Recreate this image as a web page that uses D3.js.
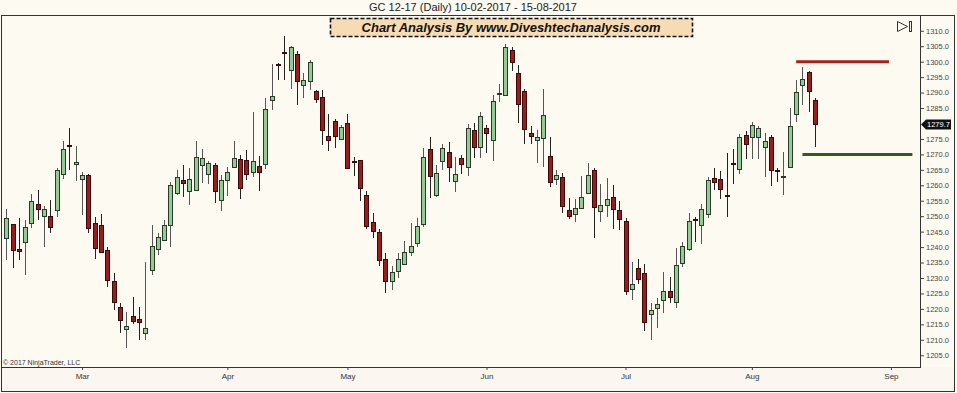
<!DOCTYPE html>
<html>
<head>
<meta charset="utf-8">
<script src="https://cdn.jsdelivr.net/npm/d3@7"></script>
<style>
  body { margin: 0; background: #fdfaf1; }
  svg { display: block; font-family: "Liberation Sans", Arial, sans-serif; }
</style>
</head>
<body>
<svg id="chart" width="957" height="393"></svg>
<script>
// GC 12-17 daily bars, 10-02-2017 .. 15-08-2017 (one entry per trading day)
const opens = [
  1242.8, 1247.4, 1239.3, 1241.7, 1247.7, 1254.1, 1249.8, 1250.0, 1251.8, 1263.5,
  1272.9, 1266.8, 1261.9, 1263.3, 1247.9, 1247.1, 1239.0, 1229.0, 1220.7, 1213.3,
  1217.7, 1216.6, 1212.1, 1232.6, 1239.6, 1242.3, 1247.1, 1257.6, 1261.7, 1258.1,
  1258.4, 1266.5, 1263.8, 1266.5, 1255.2, 1261.9, 1265.8, 1268.4, 1268.2, 1264.4,
  1266.2, 1267.1, 1287.5, 1299.3, 1303.1, 1297.3, 1302.6, 1292.7, 1294.0, 1290.6,
  1288.6, 1275.9, 1280.9, 1275.1, 1280.2, 1267.8, 1268.1, 1257.0, 1248.0, 1245.0,
  1236.0, 1229.0, 1232.0, 1234.7, 1238.5, 1241.2, 1247.6, 1271.9, 1256.8, 1268.1,
  1270.8, 1261.4, 1268.7, 1265.8, 1277.8, 1272.4, 1278.4, 1274.8, 1289.5, 1289.2,
  1303.9, 1296.4, 1290.5, 1276.8, 1274.6, 1275.1, 1269.4, 1261.9, 1262.7, 1252.0,
  1250.7, 1252.8, 1257.6, 1264.9, 1251.8, 1253.9, 1256.3, 1252.0, 1248.5, 1226.6,
  1233.1, 1231.5, 1218.5, 1220.1, 1222.9, 1225.9, 1222.3, 1234.7, 1239.6, 1249.2,
  1247.1, 1250.7, 1262.2, 1261.9, 1256.8, 1267.3, 1265.1, 1276.2, 1275.7, 1275.5,
  1272.5, 1275.5, 1264.9, 1262.6, 1266.0, 1283.3, 1292.4, 1296.7, 1287.6
];
const highs = [
  1252.2, 1247.6, 1249.3, 1248.7, 1257.2, 1258.5, 1253.3, 1255.2, 1265.5, 1274.4,
  1278.4, 1272.7, 1264.4, 1263.8, 1249.8, 1250.6, 1240.1, 1231.5, 1222.0, 1219.1,
  1223.9, 1220.7, 1235.3, 1247.1, 1244.6, 1248.7, 1261.1, 1264.9, 1266.5, 1265.5,
  1274.4, 1271.9, 1267.9, 1267.3, 1263.3, 1266.0, 1274.4, 1269.8, 1271.4, 1283.8,
  1269.4, 1288.1, 1299.4, 1299.6, 1308.3, 1305.0, 1303.5, 1296.2, 1300.7, 1290.8,
  1290.8, 1283.2, 1281.6, 1279.5, 1283.2, 1269.0, 1268.3, 1258.0, 1251.0, 1246.0,
  1238.0, 1234.0, 1238.0, 1242.0, 1247.8, 1249.3, 1272.2, 1275.5, 1266.5, 1273.3,
  1274.1, 1269.2, 1269.7, 1279.8, 1280.2, 1283.8, 1279.5, 1289.2, 1292.9, 1305.7,
  1304.6, 1298.9, 1291.3, 1279.1, 1277.8, 1291.0, 1275.5, 1265.1, 1264.0, 1255.8,
  1255.4, 1263.0, 1267.1, 1265.5, 1260.4, 1262.2, 1260.1, 1255.0, 1249.3, 1235.3,
  1236.3, 1234.5, 1221.8, 1223.4, 1232.0, 1230.4, 1239.6, 1241.7, 1250.9, 1249.8,
  1254.1, 1262.8, 1265.5, 1264.7, 1270.3, 1271.9, 1276.6, 1277.6, 1280.6, 1279.2,
  1276.8, 1276.2, 1265.5, 1270.8, 1284.9, 1294.0, 1298.4, 1297.1, 1288.1
];
const lows = [
  1235.8, 1233.1, 1235.8, 1230.9, 1246.3, 1248.7, 1239.9, 1244.6, 1249.8, 1261.9,
  1264.9, 1261.5, 1250.4, 1244.4, 1236.0, 1238.0, 1227.2, 1219.6, 1212.1, 1207.2,
  1215.1, 1209.9, 1209.9, 1230.9, 1237.4, 1242.1, 1239.9, 1256.8, 1256.1, 1253.6,
  1258.2, 1260.6, 1260.4, 1254.3, 1251.8, 1256.5, 1265.5, 1255.5, 1261.7, 1262.7,
  1258.2, 1265.4, 1284.3, 1294.0, 1294.0, 1291.3, 1285.9, 1288.1, 1290.8, 1286.5,
  1273.0, 1271.1, 1272.2, 1274.6, 1265.4, 1263.0, 1255.0, 1246.0, 1243.0, 1234.0,
  1225.0, 1226.0, 1230.0, 1234.5, 1237.1, 1240.1, 1246.6, 1256.0, 1256.3, 1264.9,
  1261.1, 1257.9, 1263.8, 1262.9, 1268.7, 1268.7, 1270.3, 1267.9, 1287.0, 1288.8,
  1297.0, 1280.2, 1273.5, 1273.5, 1267.3, 1266.0, 1259.5, 1260.0, 1251.1, 1249.0,
  1248.2, 1252.5, 1257.2, 1243.1, 1248.2, 1249.6, 1246.0, 1245.5, 1224.5, 1222.9,
  1228.2, 1212.9, 1209.9, 1213.7, 1218.8, 1222.0, 1220.2, 1233.6, 1238.8, 1241.7,
  1241.0, 1249.3, 1258.4, 1255.4, 1249.8, 1260.4, 1263.6, 1268.4, 1268.4, 1268.4,
  1262.8, 1259.7, 1261.2, 1256.8, 1265.8, 1280.6, 1286.0, 1283.8, 1272.5
];
const closes = [
  1249.3, 1239.0, 1238.8, 1246.6, 1254.9, 1252.5, 1252.2, 1246.4, 1264.9, 1271.6,
  1272.5, 1267.4, 1263.3, 1246.0, 1239.8, 1238.5, 1229.3, 1222.3, 1216.4, 1214.4,
  1216.2, 1215.5, 1213.7, 1240.3, 1243.4, 1247.1, 1260.1, 1262.8, 1260.6, 1261.9,
  1269.0, 1268.7, 1267.3, 1258.1, 1261.7, 1264.4, 1268.7, 1259.0, 1263.6, 1267.9,
  1264.4, 1284.8, 1288.8, 1298.9, 1302.7, 1304.8, 1294.0, 1294.2, 1300.0, 1288.1,
  1277.8, 1274.6, 1276.2, 1278.9, 1265.8, 1267.4, 1259.0, 1247.0, 1245.0, 1236.0,
  1229.0, 1232.0, 1236.0, 1238.5, 1240.3, 1246.8, 1269.2, 1263.3, 1264.0, 1272.2,
  1266.0, 1263.6, 1266.8, 1278.4, 1272.4, 1282.4, 1276.8, 1287.3, 1289.9, 1304.6,
  1300.0, 1286.5, 1278.1, 1275.7, 1275.5, 1282.7, 1261.1, 1263.3, 1253.2, 1250.0,
  1252.5, 1256.3, 1263.3, 1252.8, 1253.6, 1255.7, 1252.5, 1249.0, 1225.9, 1228.2,
  1229.5, 1215.8, 1219.8, 1221.5, 1225.9, 1223.9, 1234.2, 1240.3, 1248.5, 1248.8,
  1252.2, 1261.7, 1260.8, 1258.7, 1256.4, 1266.9, 1275.5, 1273.3, 1279.5, 1278.4,
  1274.4, 1264.7, 1264.5, 1263.0, 1279.2, 1290.3, 1294.3, 1290.6, 1279.7
];

// first bar of each month (bar index), Sep is in the empty future area
const monthLabels = ["Mar", "Apr", "May", "Jun", "Jul", "Aug", "Sep"];
const monthBars = [12, 35, 54, 76, 98, 118, 140];

// drawn levels
const levelPrices = [1300, 1270];
const levelStart = [125, 126];
const levelEnd = [139.7, 143.4];
const levelColors = ["#a8201c", "#3a5a1c"];

const priceTicks = d3.range(1205, 1311, 5).filter(v => v !== 1280);
const lastPrice = closes[closes.length - 1];

const svg = d3.select("#chart"),
  width = +svg.attr("width"),
  height = +svg.attr("height");

const plot = { left: 1, top: 15, right: 920, bottom: 367 };

svg.append("rect").attr("width", width).attr("height", height).attr("fill", "#fdfaf1");
svg.append("rect")
  .attr("x", 1).attr("y", plot.bottom).attr("width", 954).attr("height", 24)
  .attr("fill", "#fcf6f0");

const x = d3.scaleLinear().domain([-0.82, 144.6]).range([plot.left, plot.right]);
const y = d3.scaleLinear().domain([1201.2, 1315.1]).range([plot.bottom, plot.top]);

// title
svg.append("text")
  .attr("x", 473).attr("y", 11)
  .attr("text-anchor", "middle")
  .attr("font-size", 11)
  .attr("fill", "#222")
  .text("GC 12-17 (Daily)  10-02-2017 - 15-08-2017");

// frame
const frame = svg.append("g").attr("stroke", "#333").attr("fill", "none").attr("shape-rendering", "crispEdges");
frame.append("rect").attr("x", 1.5).attr("y", 15.5).attr("width", 953).attr("height", 376);
frame.append("line").attr("x1", 1).attr("x2", plot.right).attr("y1", plot.bottom + 0.5).attr("y2", plot.bottom + 0.5);
frame.append("line").attr("x1", plot.right + 0.5).attr("x2", plot.right + 0.5).attr("y1", 15).attr("y2", plot.bottom + 1);

// candles
const bars = d3.range(opens.length).map(i => ({
  i, o: opens[i], h: highs[i], l: lows[i], c: closes[i]
}));

const cg = svg.append("g").attr("shape-rendering", "crispEdges");
cg.selectAll(".wick")
  .data(bars)
  .enter().append("line")
  .attr("class", "wick")
  .attr("x1", d => Math.round(x(d.i)) + 0.5)
  .attr("x2", d => Math.round(x(d.i)) + 0.5)
  .attr("y1", d => y(d.h))
  .attr("y2", d => y(d.l))
  .attr("stroke", d => d.c >= d.o ? "#555" : "#222")
  .attr("stroke-width", 1);

cg.selectAll(".body")
  .data(bars)
  .enter().append("rect")
  .attr("class", "body")
  .attr("x", d => Math.round(x(d.i)) - 1.5)
  .attr("width", 4)
  .attr("y", d => Math.round(y(Math.max(d.o, d.c))) + 0.5)
  .attr("height", d => Math.max(1, Math.round(Math.abs(y(d.o) - y(d.c)))))
  .attr("fill", d => d.c >= d.o ? "#93cc93" : "#9a1c1c")
  .attr("stroke", d => d.c >= d.o ? "#2a3a2a" : "#3a0a0a")
  .attr("stroke-width", 1);

// level lines
svg.selectAll(".level")
  .data(levelPrices)
  .enter().append("line")
  .attr("class", "level")
  .attr("x1", (d, i) => x(levelStart[i]))
  .attr("x2", (d, i) => x(levelEnd[i]))
  .attr("y1", d => y(d))
  .attr("y2", d => y(d))
  .attr("stroke", (d, i) => levelColors[i])
  .attr("stroke-width", 3);

// price axis
const yAxis = svg.append("g")
  .attr("transform", `translate(${plot.right},0)`)
  .call(d3.axisRight(y).tickValues(priceTicks).tickSize(4).tickPadding(2).tickFormat(d3.format(".1f")));
yAxis.select(".domain").remove();
yAxis.selectAll("line").attr("stroke", "#444");
yAxis.selectAll("text").attr("font-size", 7.5).attr("fill", "#444").attr("font-family", "Liberation Sans, Arial, sans-serif");

// last price marker
const ly = y(lastPrice);
svg.append("path")
  .attr("d", `M${plot.right + 1},${ly} L${plot.right + 6},${ly - 5} L${plot.right + 31},${ly - 5} L${plot.right + 31},${ly + 5} L${plot.right + 6},${ly + 5} Z`)
  .attr("fill", "#111");
svg.append("text")
  .attr("x", plot.right + 7).attr("y", ly + 3)
  .attr("font-size", 7.5).attr("fill", "#fff")
  .text(d3.format(".1f")(lastPrice));

// time axis
const xAxis = svg.append("g")
  .attr("transform", `translate(0,${plot.bottom})`)
  .call(d3.axisBottom(x).tickValues(monthBars).tickSize(3).tickPadding(3)
    .tickFormat((d, i) => monthLabels[i]));
xAxis.select(".domain").remove();
xAxis.selectAll("line").attr("stroke", "#444");
xAxis.selectAll("text").attr("font-size", 8).attr("fill", "#333").attr("font-family", "Liberation Sans, Arial, sans-serif");

// copyright
svg.append("text")
  .attr("x", 3).attr("y", 365)
  .attr("font-size", 7).attr("fill", "#333")
  .text("\u00a9 2017 NinjaTrader, LLC");

// banner
svg.append("rect")
  .attr("x", 330.5).attr("y", 18.5).attr("width", 362).attr("height", 18)
  .attr("fill", "#f7dcb3")
  .attr("stroke", "#111").attr("stroke-width", 1.6).attr("stroke-dasharray", "4,2");
svg.append("text")
  .attr("x", 511).attr("y", 32)
  .attr("text-anchor", "middle")
  .attr("font-size", 13).attr("font-weight", "bold").attr("font-style", "italic")
  .attr("fill", "#111")
  .text("Chart Analysis By www.Diveshtechanalysis.com");

// scroll-to-end icon
svg.append("path")
  .attr("d", "M897.5,21.5 L907.5,26.5 L897.5,31.5 Z")
  .attr("fill", "none").attr("stroke", "#333");
svg.append("rect")
  .attr("x", 909.5).attr("y", 21.5).attr("width", 2).attr("height", 10)
  .attr("fill", "none").attr("stroke", "#333");
</script>
</body>
</html>
